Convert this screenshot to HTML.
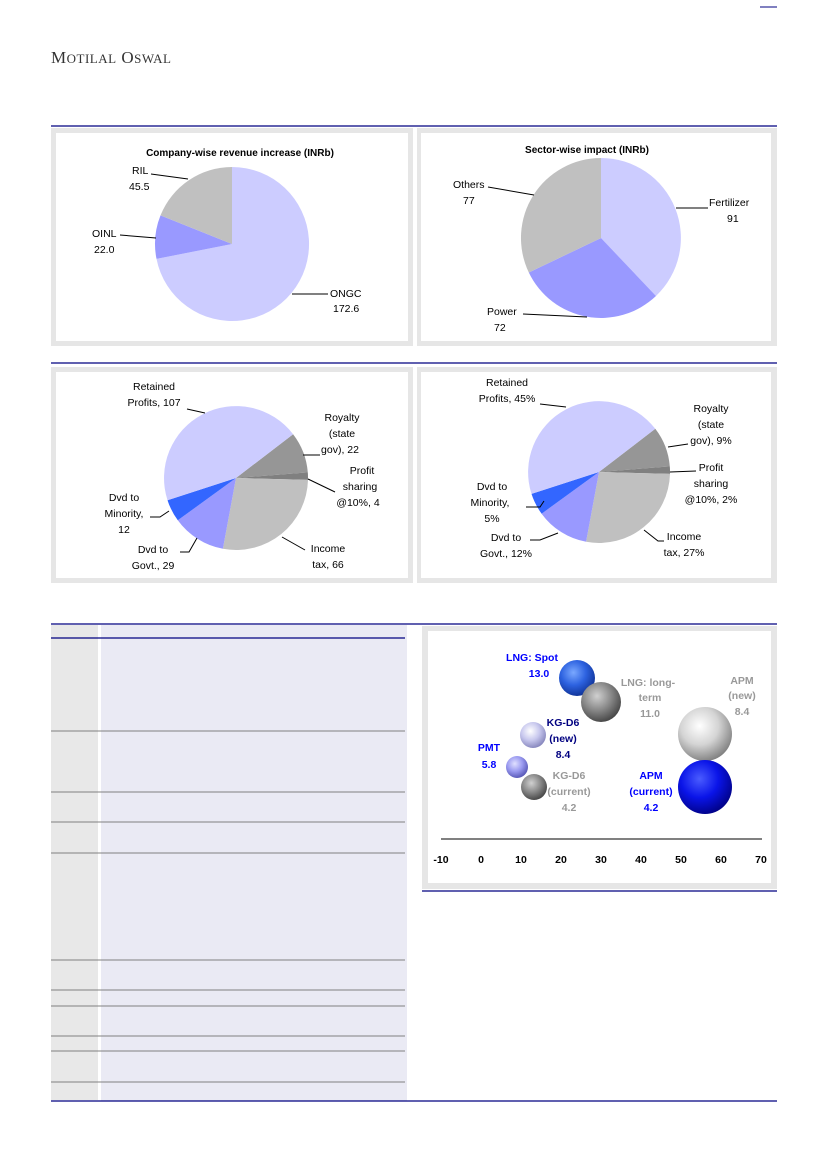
<!DOCTYPE html>
<html><head><meta charset="utf-8"><style>
html,body{margin:0;padding:0;background:#fff;}
svg{display:block;}
text{font-family:"Liberation Sans",sans-serif;font-size:10.5px;fill:#000;}
.b{font-weight:bold;}
</style></head><body>
<svg width="826" height="1169" viewBox="0 0 826 1169">
<defs>
<radialGradient id="gb" cx="0.4" cy="0.35" r="0.7"><stop offset="0" stop-color="#7aa8ff"/><stop offset="0.5" stop-color="#2d62e0"/><stop offset="1" stop-color="#0d2f90"/></radialGradient>
<radialGradient id="gg" cx="0.4" cy="0.35" r="0.7"><stop offset="0" stop-color="#d0d0d0"/><stop offset="0.5" stop-color="#8a8a8a"/><stop offset="1" stop-color="#404040"/></radialGradient>
<radialGradient id="gl" cx="0.4" cy="0.35" r="0.7"><stop offset="0" stop-color="#ffffff"/><stop offset="0.5" stop-color="#c8c8ee"/><stop offset="1" stop-color="#8080b8"/></radialGradient>
<radialGradient id="gp" cx="0.4" cy="0.35" r="0.7"><stop offset="0" stop-color="#e0e0ff"/><stop offset="0.5" stop-color="#9a9af0"/><stop offset="1" stop-color="#5050b0"/></radialGradient>
<radialGradient id="gw" cx="0.4" cy="0.35" r="0.7"><stop offset="0" stop-color="#ffffff"/><stop offset="0.5" stop-color="#d4d4d4"/><stop offset="1" stop-color="#7a7a7a"/></radialGradient>
<radialGradient id="gB" cx="0.4" cy="0.35" r="0.7"><stop offset="0" stop-color="#4a5cff"/><stop offset="0.5" stop-color="#0a14e8"/><stop offset="1" stop-color="#000080"/></radialGradient>
</defs>
<line x1="760" y1="7" x2="777" y2="7" stroke="#000080" stroke-width="1"/>
<text x="51" y="63" style="font-family:'Liberation Serif',serif;font-size:17px;fill:#333;letter-spacing:0.5px">M<tspan style="font-size:13px">OTILAL</tspan> O<tspan style="font-size:13px">SWAL</tspan></text>

<!-- Top row -->
<line x1="51" y1="126" x2="777" y2="126" stroke="#000080" stroke-width="1.2"/>
<rect x="51" y="128" width="362" height="218" fill="#e6e6e6"/>
<rect x="56" y="133" width="352" height="208" fill="#fff"/>
<rect x="417" y="128" width="360" height="218" fill="#e6e6e6"/>
<rect x="421" y="133" width="350" height="208" fill="#fff"/>
<text x="240" y="156" text-anchor="middle" class="b" style="font-size:10px">Company-wise revenue increase (INRb)</text>
<path d="M232,244 L232,167 A77,77 0 1 1 156.5,258.9 Z" fill="#ccccff"/>
<path d="M232,244 L156.5,258.9 A77,77 0 0 1 160.5,215.4 Z" fill="#9999ff"/>
<path d="M232,244 L160.5,215.4 A77,77 0 0 1 232,167 Z" fill="#c0c0c0"/>
<text x="132" y="174">RIL</text><text x="129" y="190">45.5</text>
<line x1="151" y1="174" x2="188" y2="179" stroke="#000"/>
<text x="92" y="237">OINL</text><text x="94" y="253">22.0</text>
<line x1="120" y1="235" x2="156" y2="238" stroke="#000"/>
<text x="330" y="297">ONGC</text><text x="333" y="312">172.6</text>
<line x1="292" y1="294" x2="328" y2="294" stroke="#000"/>

<text x="587" y="153" text-anchor="middle" class="b" style="font-size:10px">Sector-wise impact (INRb)</text>
<path d="M601,238 L601,158 A80,80 0 0 1 656,296 Z" fill="#ccccff"/>
<path d="M601,238 L656,296 A80,80 0 0 1 528.8,272.5 Z" fill="#9999ff"/>
<path d="M601,238 L528.8,272.5 A80,80 0 0 1 601,158 Z" fill="#c0c0c0"/>
<text x="453" y="188">Others</text><text x="463" y="204">77</text>
<line x1="488" y1="187" x2="534" y2="195" stroke="#000"/>
<text x="709" y="206">Fertilizer</text><text x="727" y="222">91</text>
<line x1="676" y1="208" x2="708" y2="208" stroke="#000"/>
<text x="487" y="315">Power</text><text x="494" y="331">72</text>
<line x1="523" y1="314" x2="587" y2="317" stroke="#000"/>

<!-- Second row -->
<line x1="51" y1="363" x2="777" y2="363" stroke="#000080" stroke-width="1.2"/>
<rect x="51" y="367" width="362" height="216" fill="#e6e6e6"/>
<rect x="56" y="372" width="352" height="206" fill="#fff"/>
<rect x="417" y="367" width="360" height="216" fill="#e6e6e6"/>
<rect x="421" y="372" width="350" height="206" fill="#fff"/>

<path d="M236,478 L293.1,434.2 A72,72 0 0 1 307.8,472.4 Z" fill="#969696"/>
<path d="M236,478 L307.8,472.4 A72,72 0 0 1 308,479.9 Z" fill="#808080"/>
<path d="M236,478 L308,479.9 A72,72 0 0 1 222.9,548.8 Z" fill="#c0c0c0"/>
<path d="M236,478 L222.9,548.8 A72,72 0 0 1 177.8,520.3 Z" fill="#9999ff"/>
<path d="M236,478 L177.8,520.3 A72,72 0 0 1 167.5,500.2 Z" fill="#3366ff"/>
<path d="M236,478 L167.5,500.2 A72,72 0 0 1 293.1,434.2 Z" fill="#ccccff"/>
<g text-anchor="middle">
<text x="154" y="390">Retained</text><text x="154" y="406">Profits, 107</text>
<text x="342" y="421">Royalty</text><text x="342" y="437">(state</text><text x="340" y="453">gov), 22</text>
<text x="362" y="474">Profit</text><text x="360" y="490">sharing</text><text x="358" y="506">@10%, 4</text>
<text x="328" y="552">Income</text><text x="328" y="568">tax, 66</text>
<text x="124" y="501">Dvd to</text><text x="124" y="517">Minority,</text><text x="124" y="533">12</text>
<text x="153" y="553">Dvd to</text><text x="153" y="569">Govt., 29</text>
</g>
<g stroke="#000" fill="none">
<polyline points="187,409 205,413"/>
<polyline points="303,455 320,455"/>
<polyline points="308,479 335,492"/>
<polyline points="282,537 305,550"/>
<polyline points="150,517 160,517 169,511"/>
<polyline points="180,552 189,552 197,538"/>
</g>

<path d="M599,472 L655.3,428.8 A71,71 0 0 1 669.8,466.4 Z" fill="#969696"/>
<path d="M599,472 L669.8,466.4 A71,71 0 0 1 670,473.9 Z" fill="#808080"/>
<path d="M599,472 L670,473.9 A71,71 0 0 1 586.1,541.8 Z" fill="#c0c0c0"/>
<path d="M599,472 L586.1,541.8 A71,71 0 0 1 541.6,513.7 Z" fill="#9999ff"/>
<path d="M599,472 L541.6,513.7 A71,71 0 0 1 531.5,493.9 Z" fill="#3366ff"/>
<path d="M599,472 L531.5,493.9 A71,71 0 0 1 655.3,428.8 Z" fill="#ccccff"/>
<g text-anchor="middle">
<text x="507" y="386">Retained</text><text x="507" y="402">Profits, 45%</text>
<text x="711" y="412">Royalty</text><text x="711" y="428">(state</text><text x="711" y="444">gov), 9%</text>
<text x="711" y="471">Profit</text><text x="711" y="487">sharing</text><text x="711" y="503">@10%, 2%</text>
<text x="684" y="540">Income</text><text x="684" y="556">tax, 27%</text>
<text x="492" y="490">Dvd to</text><text x="490" y="506">Minority,</text><text x="492" y="522">5%</text>
<text x="506" y="541">Dvd to</text><text x="506" y="557">Govt., 12%</text>
</g>
<g stroke="#000" fill="none">
<polyline points="540,404 566,407"/>
<polyline points="668,447 688,444"/>
<polyline points="670,472 696,471"/>
<polyline points="644,530 658,541 664,541"/>
<polyline points="526,507 540,507 544,501"/>
<polyline points="530,540 540,540 558,533"/>
</g>

<!-- Bottom section -->
<line x1="51" y1="624" x2="777" y2="624" stroke="#000080" stroke-width="1.2"/>
<rect x="51" y="625" width="47" height="475" fill="#e8e8e8"/>
<rect x="101" y="625" width="306" height="476" fill="#eaeaf4"/>
<line x1="51" y1="638" x2="405" y2="638" stroke="#000080" stroke-width="1.2"/>
<g stroke="#808080" stroke-width="1">
<line x1="51" y1="731" x2="405" y2="731"/>
<line x1="51" y1="792" x2="405" y2="792"/>
<line x1="51" y1="822" x2="405" y2="822"/>
<line x1="51" y1="853" x2="405" y2="853"/>
<line x1="51" y1="960" x2="405" y2="960"/>
<line x1="51" y1="990" x2="405" y2="990"/>
<line x1="51" y1="1006" x2="405" y2="1006"/>
<line x1="51" y1="1036" x2="405" y2="1036"/>
<line x1="51" y1="1051" x2="405" y2="1051"/>
<line x1="51" y1="1082" x2="405" y2="1082"/>
</g>
<line x1="51" y1="1101" x2="777" y2="1101" stroke="#000080" stroke-width="1.2"/>

<rect x="422" y="626" width="355" height="263" fill="#e6e6e6"/>
<rect x="428" y="631" width="343" height="252" fill="#fff"/>
<line x1="422" y1="891" x2="777" y2="891" stroke="#000080" stroke-width="1.2"/>
<line x1="441" y1="839" x2="762" y2="839" stroke="#000"/>
<g class="b" text-anchor="middle" style="font-size:10px">
<text class="b" x="441" y="863">-10</text><text class="b" x="481" y="863">0</text><text class="b" x="521" y="863">10</text><text class="b" x="561" y="863">20</text><text class="b" x="601" y="863">30</text><text class="b" x="641" y="863">40</text><text class="b" x="681" y="863">50</text><text class="b" x="721" y="863">60</text><text class="b" x="761" y="863">70</text>
</g>
<circle cx="577" cy="678" r="18" fill="url(#gb)"/>
<circle cx="601" cy="702" r="20" fill="url(#gg)"/>
<circle cx="533" cy="735" r="13" fill="url(#gl)"/>
<circle cx="517" cy="767" r="11" fill="url(#gp)"/>
<circle cx="534" cy="787" r="13" fill="url(#gg)"/>
<circle cx="705" cy="734" r="27" fill="url(#gw)"/>
<circle cx="705" cy="787" r="27" fill="url(#gB)"/>
<g text-anchor="middle">
<text class="b" x="532" y="661" style="fill:#0000ff">LNG: Spot</text><text class="b" x="539" y="677" style="fill:#0000ff">13.0</text>
<text class="b" x="648" y="686" style="fill:#999">LNG: long-</text><text class="b" x="650" y="701" style="fill:#999">term</text><text class="b" x="650" y="717" style="fill:#999">11.0</text>
<text class="b" x="742" y="684" style="fill:#999">APM</text><text class="b" x="742" y="699" style="fill:#999">(new)</text><text class="b" x="742" y="715" style="fill:#999">8.4</text>
<text class="b" x="563" y="726" style="fill:#000080">KG-D6</text><text class="b" x="563" y="742" style="fill:#000080">(new)</text><text class="b" x="563" y="758" style="fill:#000080">8.4</text>
<text class="b" x="489" y="751" style="fill:#0000ff">PMT</text><text class="b" x="489" y="768" style="fill:#0000ff">5.8</text>
<text class="b" x="569" y="779" style="fill:#999">KG-D6</text><text class="b" x="569" y="795" style="fill:#999">(current)</text><text class="b" x="569" y="811" style="fill:#999">4.2</text>
<text class="b" x="651" y="779" style="fill:#0000ff">APM</text><text class="b" x="651" y="795" style="fill:#0000ff">(current)</text><text class="b" x="651" y="811" style="fill:#0000ff">4.2</text>
</g>
</svg>
</body></html>
